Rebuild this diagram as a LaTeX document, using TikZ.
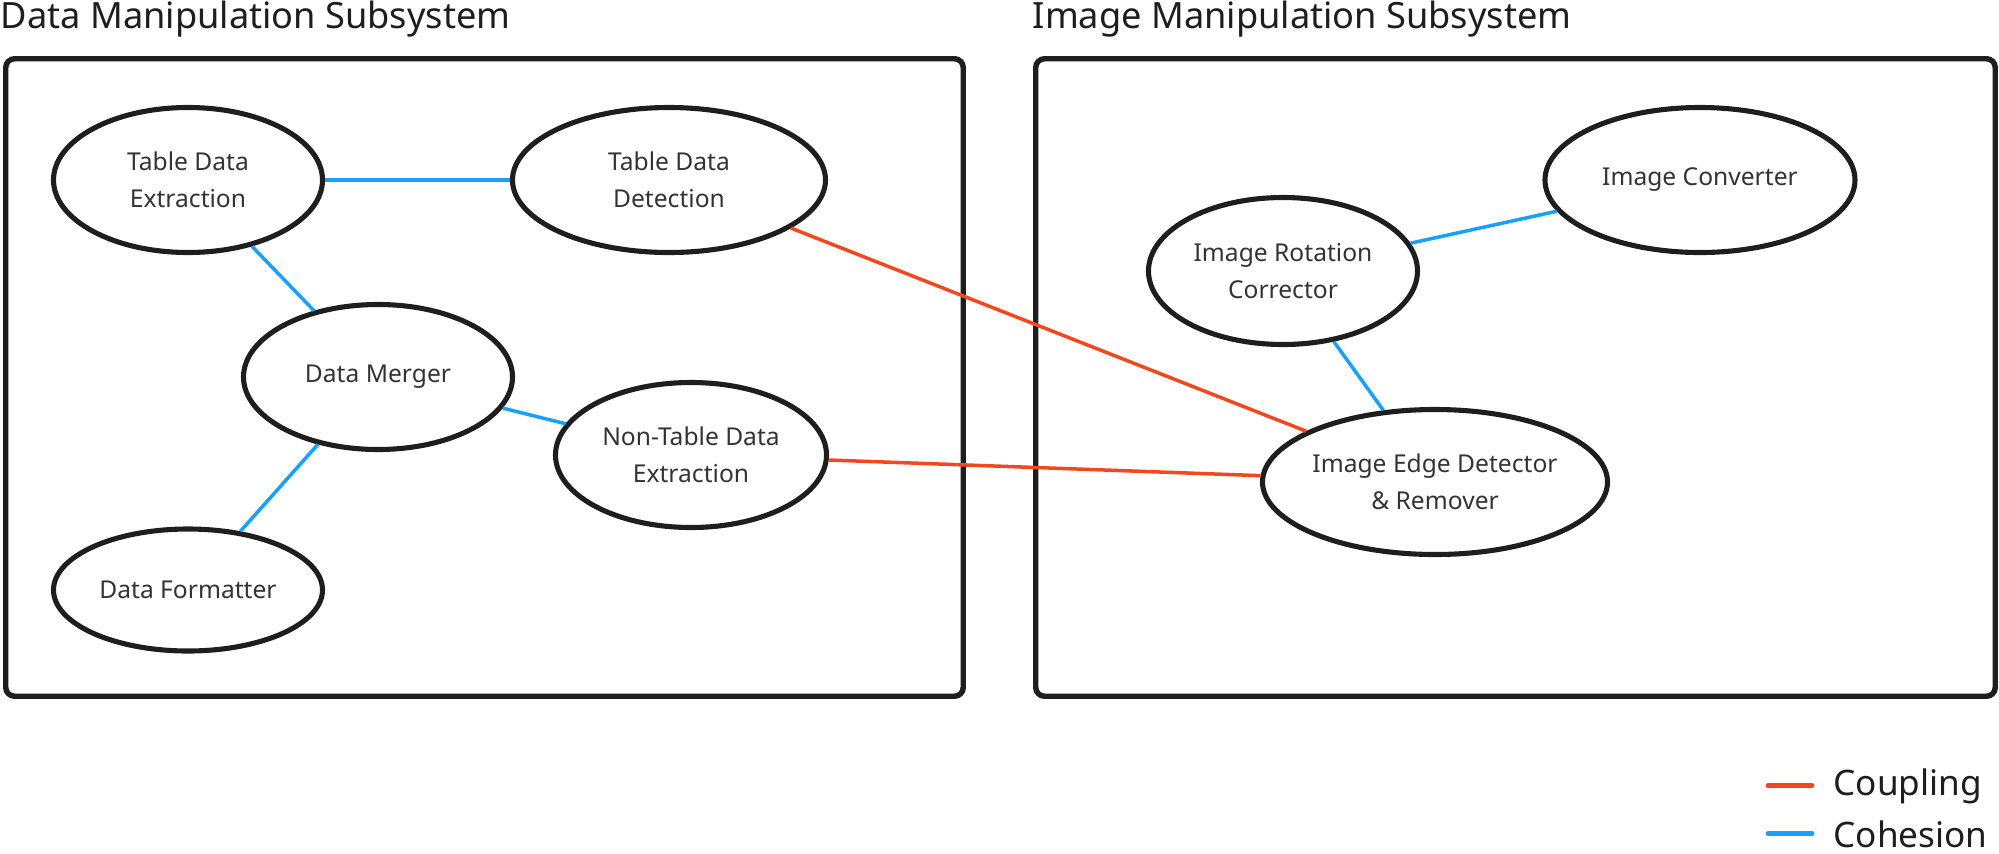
\documentclass[tikz,border=0pt]{standalone}
\usepackage{fontspec}
\setmainfont{Noto Sans}
\usepackage{xcolor}
\usetikzlibrary{positioning, shapes.geometric}
\definecolor{couplingred}{HTML}{F24822}
\definecolor{cohesionblue}{HTML}{18A0FB}
\definecolor{inkgray}{HTML}{1E1E1E}
\definecolor{labelgray}{HTML}{333333}

\begin{document}
\begin{tikzpicture}[
  y=-1cm,
  subsys/.style={draw=inkgray, line width=1.55pt, rounded corners=2.5pt, inner sep=0pt},
  subtitle/.style={anchor=base west, inner sep=0pt, font=\fontsize{10.3}{12}\selectfont, text=inkgray},
  module/.style={ellipse, draw=inkgray, line width=1.45pt, inner xsep=-0.3cm, inner ysep=0pt, minimum height=1.45cm, align=center, font=\fontsize{7}{10.5}\selectfont, text=labelgray},
  coupling/.style={draw=couplingred, line width=1pt},
  cohesion/.style={draw=cohesionblue, line width=1pt},
  legendtext/.style={anchor=base west, inner sep=0pt, font=\fontsize{10}{12}\selectfont, text=inkgray},
]
\useasboundingbox (0,0) rectangle (19.99,8.54);

% Subsystem frames
\node[subsys, minimum width=9.575cm, minimum height=6.375cm] (dmbox) at (4.845,3.775) {};
\node[subsys, minimum width=9.595cm, minimum height=6.375cm] (imbox) at (15.155,3.775) {};

% Frame titles
\node[subtitle] (dmtitle) at ([xshift=-0.03cm, yshift=0.28cm]dmbox.north west) {Data Manipulation Subsystem};
\node[subtitle] (imtitle) at ([xshift=-0.01cm, yshift=0.28cm]imbox.north west) {Image Manipulation Subsystem};

% Data manipulation modules
\node[module, minimum width=2.69cm] (tde) at (1.88,1.80) {Table Data\\Extraction};
\node[module, minimum width=3.13cm] (tdd) at (6.69,1.80) {Table Data\\Detection};
\node[module, minimum width=2.69cm] (dm) at (3.78,3.77) {Data Merger};
\node[module, minimum width=2.71cm] (ntde) at (6.91,4.55) {Non-Table Data\\Extraction};
\node[module, minimum width=2.69cm, minimum height=1.22cm] (df) at (1.88,5.90) {Data Formatter};

% Image manipulation modules
\node[module, minimum width=3.10cm] (ic) at (17.00,1.80) {Image Converter};
\node[module, minimum width=2.69cm, minimum height=1.47cm] (irc) at (12.83,2.71) {Image Rotation\\Corrector};
\node[module, minimum width=3.45cm] (iedr) at (14.35,4.82) {Image Edge Detector\\\& Remover};

% Cohesion links
\draw[cohesion] (tde) -- (tdd);
\draw[cohesion] (tde) -- (dm);
\draw[cohesion] (dm) -- (ntde);
\draw[cohesion] (dm) -- (df);
\draw[cohesion] (irc) -- (ic);
\draw[cohesion] (irc) -- (iedr);

% Coupling links
\draw[coupling] (tdd) -- (iedr);
\draw[coupling] (ntde) -- (iedr);

% Legend
\node[legendtext] (lcoup) at (18.33,7.95) {Coupling};
\node[legendtext] (lcohe) at (18.33,8.47) {Cohesion};
\coordinate[left=0.21cm of lcoup] (lcoup-e);
\coordinate[left=0.44cm of lcoup-e] (lcoup-s);
\coordinate[left=0.21cm of lcohe] (lcohe-e);
\coordinate[left=0.44cm of lcohe-e] (lcohe-s);
\draw[coupling, line width=1.4pt, line cap=round] (lcoup-s) -- (lcoup-e);
\draw[cohesion, line width=1.4pt, line cap=round] (lcohe-s) -- (lcohe-e);

\end{tikzpicture}
\end{document}
